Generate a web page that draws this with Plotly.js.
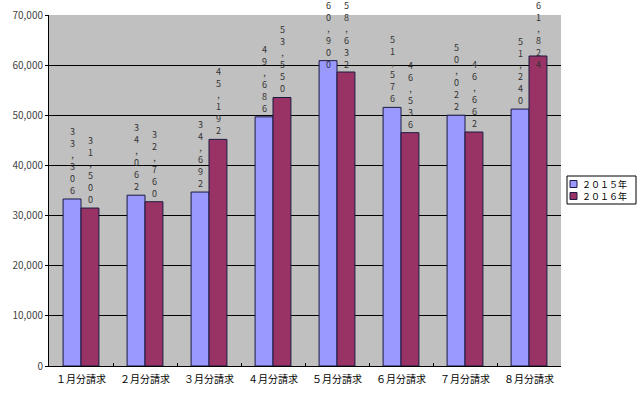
<!DOCTYPE html>
<html><head><meta charset="utf-8">
<script src="https://cdn.plot.ly/plotly-3.0.1.min.js"></script>
<style>html,body{margin:0;padding:0;background:#fff;}#chart{width:640px;height:394px;}</style>
</head><body><div id="chart"></div>
<script>
const categories = ["１月分請求","２月分請求","３月分請求","４月分請求","５月分請求","６月分請求","７月分請求","８月分請求"];
const seriesNames = ["２０１５年","２０１６年"];
const values2015 = [33306, 34062, 34692, 49686, 60900, 51576, 50022, 51240];
const values2016 = [31500, 32760, 45192, 53550, 58632, 46536, 46662, 61824];
const seriesColors = ['#9999FF', '#993366'];
const yTickVals = [0,10000,20000,30000,40000,50000,60000,70000];

function vlabel(v){ return v.toLocaleString('en-US').split('').join('<br>'); }
const font = "'MS Gothic','Noto Sans CJK JP','DejaVu Sans Mono',monospace";
const LABEL_CAP = 58500; // labels that would leave the chart are pushed down, as in the source

function tr(name, vals, color){
  return {type:'bar', name:name, x:categories, y:vals,
    marker:{color:color, line:{color:'#1a1a40', width:1}},
    hoverinfo:'none'};
}
const data = [tr(seriesNames[0], values2015, seriesColors[0]), tr(seriesNames[1], values2016, seriesColors[1])];

const annotations = [];
[[values2015,-9],[values2016,9]].forEach(([vals,dx])=>{
  vals.forEach((v,i)=>{
    annotations.push({x:categories[i], y:Math.min(v, LABEL_CAP), xref:'x', yref:'y',
      text:vlabel(v), showarrow:false, xshift:dx, yshift:1, yanchor:'bottom', xanchor:'center',
      font:{family:font, size:9, color:'#333'}, borderpad:0});
  });
});

// compact Excel-style legend box (plot domain: 512px wide, 351px tall)
const px = x => (x - 49) / 512;
const py = y => (366 - y) / 351;
const shapes = [{type:'rect', xref:'paper', yref:'paper', x0:px(567), x1:px(636), y0:py(204), y1:py(176),
  line:{color:'#000', width:1}, fillcolor:'#fff', layer:'above'}];
seriesNames.forEach((n,k)=>{
  const cy = 184 + k*12;
  shapes.push({type:'rect', xref:'paper', yref:'paper', x0:px(570), x1:px(577), y0:py(cy+3.5), y1:py(cy-3.5),
    line:{color:'#1a1a40', width:1}, fillcolor:seriesColors[k], layer:'above'});
  annotations.push({xref:'paper', yref:'paper', x:px(581), y:py(cy), xanchor:'left', yanchor:'middle',
    text:n, showarrow:false, borderpad:0, font:{family:font, size:9, color:'#000'}});
});

const layout = {
  width:640, height:394,
  margin:{l:49, r:79, t:15, b:28, autoexpand:false},
  paper_bgcolor:'#fff', plot_bgcolor:'#C0C0C0',
  barmode:'group', bargap:0.44, bargroupgap:0,
  showlegend:false,
  annotations: annotations,
  shapes: shapes,
  xaxis:{showgrid:false, showline:true, linecolor:'#000', linewidth:1, ticks:'inside', tickson:'boundaries', ticklen:3, tickcolor:'#000',
    ticklabelstandoff:4,
    tickfont:{family:font, size:10, color:'#000'}, zeroline:false, fixedrange:true},
  yaxis:{range:[0,70000], tickvals:yTickVals, ticktext:yTickVals.map(v=>v.toLocaleString('en-US')),
    showgrid:true, gridcolor:'#000', gridwidth:1, showline:true, linecolor:'#000', linewidth:1,
    ticks:'outside', ticklen:3, tickcolor:'#000',
    tickfont:{family:font, size:10, color:'#444'}, zeroline:false, fixedrange:true}
};
Plotly.newPlot('chart', data, layout, {staticPlot:true});
</script></body></html>
